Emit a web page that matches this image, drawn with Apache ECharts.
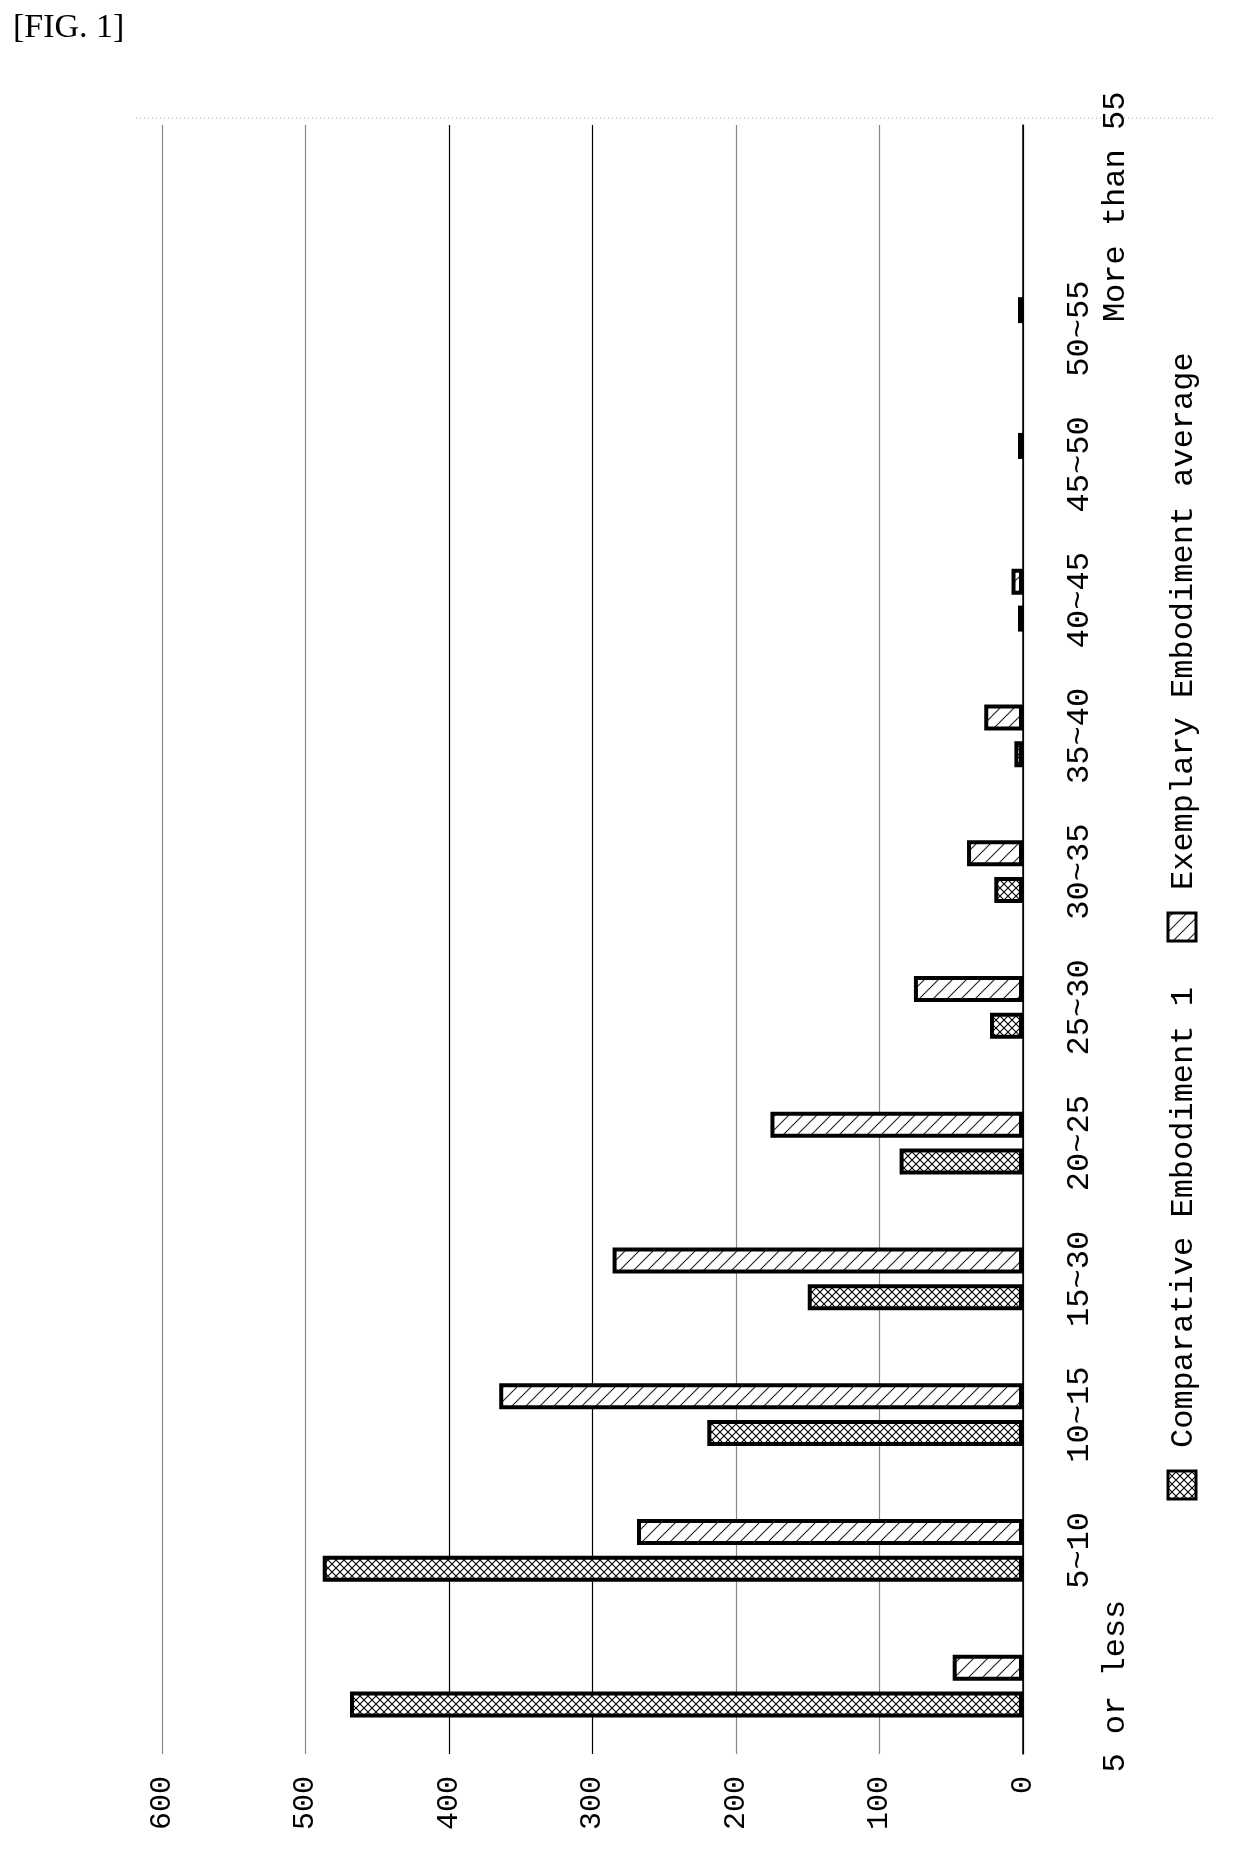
<!DOCTYPE html>
<html><head><meta charset="utf-8">
<script src="https://cdn.jsdelivr.net/npm/echarts@6/dist/echarts.min.js"></script>
<style>html,body{margin:0;padding:0;background:#fff}#c{width:1240px;height:1851px}</style>
</head><body><div id="c"></div>
<script>
// ---- data ----
const categories = ['5 or less','5~10','10~15','15~30','20~25','25~30','30~35','35~40','40~45','45~50','50~55','More than 55'];
// null = no bar drawn in the reference
const comparative = [469, 488, 220, 150, 86, 23, 20, 6, 3.5, null, null, null];
const exemplary   = [49, 269, 365, 286, 176, 76, 39, 27, 8, 3.5, 3.5, null];
const seriesNames = ['Comparative Embodiment 1', 'Exemplary Embodiment average'];
const valueMin = 0, valueMax = 600, valueStep = 100;

// ---- patterns ----
function crossHatch() {
  const s = 8, c = document.createElement('canvas');
  c.width = s; c.height = s;
  const g = c.getContext('2d');
  g.fillStyle = '#fff'; g.fillRect(0, 0, s, s);
  g.strokeStyle = '#000'; g.lineWidth = 1.1;
  g.beginPath();
  g.moveTo(0, 0); g.lineTo(s, s);
  g.moveTo(0, s); g.lineTo(s, 0);
  g.stroke();
  return c;
}
function diagHatch() {
  const s = 14, c = document.createElement('canvas');
  c.width = s; c.height = s;
  const g = c.getContext('2d');
  g.fillStyle = '#fff'; g.fillRect(0, 0, s, s);
  g.strokeStyle = '#222'; g.lineWidth = 1.1;
  g.beginPath();
  g.moveTo(0, s); g.lineTo(s, 0);
  g.moveTo(-2, 2); g.lineTo(2, -2);
  g.moveTo(s - 2, s + 2); g.lineTo(s + 2, s - 2);
  g.stroke();
  return c;
}
const patCross = { image: crossHatch(), repeat: 'repeat' };
const patDiag = { image: diagHatch(), repeat: 'repeat' };

const FONT = 'Liberation Mono';
const chart = echarts.init(document.getElementById('c'), null, { renderer: 'canvas' });

function catLabel(v) {
  if (v === '5 or less') return '{far|' + v + '}';
  if (v === 'More than 55') return '{farTop|' + v + '}';
  return v;
}

chart.setOption({
  backgroundColor: '#fff',
  animation: false,
  title: {
    text: '[FIG. 1]', left: 8, top: 6,
    textStyle: { fontFamily: 'Liberation Serif', fontSize: 34, fontWeight: 'normal', color: '#000' }
  },
  grid: { left: 162, right: 217, top: 125, bottom: 97, containLabel: false },
  xAxis: {
    type: 'value', inverse: true, min: valueMin, max: valueMax, interval: valueStep,
    position: 'bottom',
    axisLine: { show: false }, axisTick: { show: false },
    axisLabel: { rotate: 90, margin: 22, fontFamily: FONT, fontSize: 30, color: '#000' },
    splitLine: { show: true, lineStyle: { width: 1.2, color: ['#000', '#888', '#888', '#000', '#000', '#888', '#888'] } }
  },
  yAxis: {
    type: 'category', position: 'right', data: categories,
    axisLine: { show: true, lineStyle: { color: '#000', width: 1.5 } },
    axisTick: { show: false },
    axisLabel: {
      interval: 0, rotate: 90, margin: 41, fontFamily: FONT, fontSize: 32, color: '#000',
      formatter: catLabel,
      rich: {
        far: { fontFamily: FONT, fontSize: 32, color: '#000', padding: [36, 0, 0, 0] },
        farTop: { fontFamily: FONT, fontSize: 32, color: '#000', padding: [36, 28, 0, 0] }
      }
    }
  },
  series: [
    {
      name: seriesNames[1], type: 'bar', data: exemplary,
      barWidth: 26, barGap: '42%',
      itemStyle: { color: patDiag, borderColor: '#000', borderWidth: 4 }
    },
    {
      name: seriesNames[0], type: 'bar', data: comparative,
      barWidth: 26, barGap: '42%',
      itemStyle: { color: patCross, borderColor: '#000', borderWidth: 4 }
    }
  ],
  graphic: [
    { type: 'line', shape: { x1: 136, y1: 118, x2: 1216, y2: 118 },
      style: { stroke: '#aaa', lineWidth: 1, lineDash: [1, 3] }, silent: true },
    // legend: Comparative
    { type: 'rect', shape: { x: 1168, y: 1471, width: 28, height: 28 },
      style: { fill: patCross, stroke: '#000', lineWidth: 3 } },
    { type: 'text', x: 1184, y: 1448, rotation: Math.PI / 2,
      style: { text: seriesNames[0], font: '32px "' + FONT + '"', fill: '#000', align: 'left', verticalAlign: 'middle' } },
    // legend: Exemplary
    { type: 'rect', shape: { x: 1168, y: 913, width: 28, height: 28 },
      style: { fill: patDiag, stroke: '#000', lineWidth: 3 } },
    { type: 'text', x: 1184, y: 890, rotation: Math.PI / 2,
      style: { text: seriesNames[1], font: '32px "' + FONT + '"', fill: '#000', align: 'left', verticalAlign: 'middle' } }
  ]
});
</script>
</body></html>
